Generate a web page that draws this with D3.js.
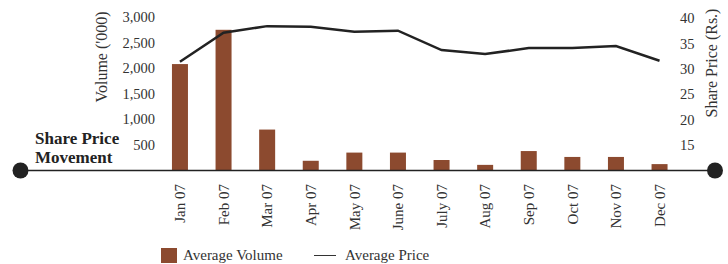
<!DOCTYPE html>
<html>
<head>
<meta charset="utf-8">
<script src="https://cdnjs.cloudflare.com/ajax/libs/d3/7.8.5/d3.min.js"></script>
<style>
  body { margin: 0; background: #fff; }
  svg { display: block; font-family: "Liberation Serif", "Times New Roman", serif; }
  .tick text { fill: #333; font-size: 14.5px; }
</style>
</head>
<body>
<svg id="chart" width="728" height="264"></svg>
<script>
// data
var months = ["Jan 07", "Feb 07", "Mar 07", "Apr 07", "May 07", "June 07",
              "July 07", "Aug 07", "Sep 07", "Oct 07", "Nov 07", "Dec 07"];
var avgVolume = [2080, 2750, 800, 190, 350, 350, 205, 110, 380, 265, 265, 125];
var avgPrice = [31.4, 37.1, 38.4, 38.3, 37.3, 37.5, 33.7, 32.9, 34.1, 34.1, 34.5, 31.6];
var volumeTicks = [500, 1000, 1500, 2000, 2500, 3000];
var priceTicks = [15, 20, 25, 30, 35, 40];

var svg = d3.select("#chart");
var base = 170.5;

var x = d3.scaleBand().domain(months)
    .range([158, 681.5])
    .paddingInner(0.633).paddingOuter(0.32);

var yVol = d3.scaleLinear().domain([0, 3000]).range([base, 17]);
var yPrice = d3.scaleLinear().domain([10, 40]).range([base, 18]);

// bars
svg.append("g").selectAll("rect")
  .data(avgVolume)
  .enter().append("rect")
    .attr("x", function(d, i) { return x(months[i]); })
    .attr("y", function(d) { return yVol(d); })
    .attr("width", x.bandwidth())
    .attr("height", function(d) { return base - yVol(d); })
    .style("fill", "#8c4a2f");

// price line
var line = d3.line()
    .x(function(d, i) { return x(months[i]) + x.bandwidth() / 2; })
    .y(function(d) { return yPrice(d); });

svg.append("path")
    .datum(avgPrice)
    .attr("d", line)
    .style("fill", "none")
    .style("stroke", "#222")
    .style("stroke-width", 2.5);

// left axis
var leftAxis = svg.append("g")
    .attr("transform", "translate(157,0)")
    .call(d3.axisLeft(yVol).tickValues(volumeTicks).tickSize(0).tickPadding(2)
      .tickFormat(d3.format(",")));
leftAxis.select(".domain").remove();

// right axis
var rightAxis = svg.append("g")
    .attr("transform", "translate(678,0)")
    .call(d3.axisRight(yPrice).tickValues(priceTicks).tickSize(0).tickPadding(2));
rightAxis.select(".domain").remove();

svg.selectAll(".tick text").style("font-family", "Liberation Serif");

// axis titles
svg.append("text")
    .attr("transform", "translate(107,57) rotate(-90)")
    .attr("text-anchor", "middle")
    .style("font-size", "16px").style("fill", "#333")
    .text("Volume ('000)");

svg.append("text")
    .attr("transform", "translate(717,63) rotate(-90)")
    .attr("text-anchor", "middle")
    .style("font-size", "16px").style("fill", "#333")
    .text("Share Price (Rs.)");

// month labels
svg.append("g").selectAll("text")
  .data(months)
  .enter().append("text")
    .attr("transform", function(d) {
      return "translate(" + (x(d) + x.bandwidth() / 2) + ",184) rotate(-90)";
    })
    .attr("dy", "0.35em")
    .attr("text-anchor", "end")
    .style("font-size", "15px").style("fill", "#333")
    .text(function(d) { return d; });

// baseline with end dots
svg.append("line")
    .attr("x1", 20).attr("x2", 715)
    .attr("y1", base).attr("y2", base)
    .style("stroke", "#222").style("stroke-width", 1.5);
svg.append("circle").attr("cx", 20.5).attr("cy", base).attr("r", 8).style("fill", "#222");
svg.append("circle").attr("cx", 715).attr("cy", base).attr("r", 8).style("fill", "#222");

// heading, two lines
svg.append("text").attr("x", 35).attr("y", 144)
    .style("font-size", "17px").style("font-weight", "bold").style("fill", "#222")
    .text("Share Price");
svg.append("text").attr("x", 35).attr("y", 163)
    .style("font-size", "17px").style("font-weight", "bold").style("fill", "#222")
    .text("Movement");

// legend
svg.append("rect")
    .attr("x", 161).attr("y", 248).attr("width", 16).attr("height", 15)
    .style("fill", "#8c4a2f");
svg.append("text")
    .attr("x", 183).attr("y", 260)
    .style("font-size", "15px").style("fill", "#333")
    .text("Average Volume");
svg.append("line")
    .attr("x1", 314).attr("x2", 336).attr("y1", 255.5).attr("y2", 255.5)
    .style("stroke", "#333").style("stroke-width", 1);
svg.append("text")
    .attr("x", 345).attr("y", 260)
    .style("font-size", "15px").style("fill", "#333")
    .text("Average Price");
</script>
</body>
</html>
